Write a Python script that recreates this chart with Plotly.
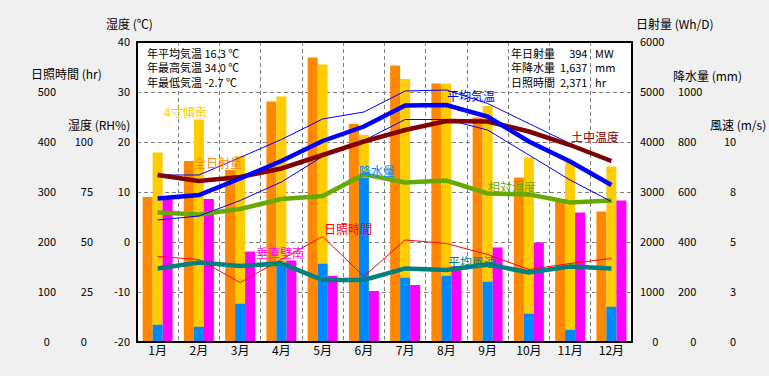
import plotly.graph_objects as go

# ---------------- data ----------------
months = ["1月", "2月", "3月", "4月", "5月", "6月", "7月", "8月", "9月", "10月", "11月", "12月"]
month_pos = [1, 2, 3, 4, 5, 6, 7, 8, 9, 10, 11, 12]

solar_total = [2900, 3620, 3440, 4810, 5690, 4360, 5530, 5170, 4490, 3290, 2860, 2610]   # 全日射量 Wh/D
solar_tilt = [3790, 4450, 3720, 4910, 5550, 4140, 5260, 5170, 4720, 3690, 3610, 3510]    # 4寸傾南 Wh/D
solar_wall = [2900, 2860, 1810, 1630, 1320, 1020, 1140, 1520, 1890, 1990, 2590, 2830]    # 垂直壁南 Wh/D
precip = [69, 61, 153, 305, 313, 657, 257, 265, 241, 113, 49, 141]                      # 降水量 mm

temp_avg = [8.7, 9.4, 12.7, 16.2, 20.2, 23.1, 27.3, 27.4, 25.1, 20.1, 16.1, 11.4]
temp_max = [13.4, 13.4, 16.9, 20.5, 24.6, 26.0, 30.2, 30.4, 27.7, 23.7, 19.7, 15.9]
temp_min = [4.4, 5.2, 8.3, 12.0, 17.1, 20.3, 24.5, 24.5, 22.4, 17.4, 12.4, 8.1]
temp_soil = [13.4, 12.2, 13.0, 14.7, 17.4, 20.1, 22.4, 24.2, 24.1, 22.1, 19.4, 16.2]
humidity = [64.8, 63.8, 66.5, 71.5, 73.0, 83.8, 79.8, 80.7, 74.3, 73.8, 69.8, 70.8]
wind = [3.68, 3.98, 3.80, 3.93, 3.10, 3.10, 3.68, 3.60, 3.88, 3.48, 3.77, 3.68]
sunshine = [171, 165, 119, 165, 211, 131, 204, 197, 175, 145, 157, 167]

FS = "\u2007"
temp_ticks = [-20, -10, 0, 10, 20, 30, 40]
hour_ticks = [0, 100, 200, 300, 400, 500]
hour_text = ["0" + FS, "100", "200", "300", "400", "500"]
rh_ticks = [0, 25, 50, 75, 100]
rh_text = ["0" + FS, "25", "50", "75", "100"]
solar_ticks = [0, 1000, 2000, 3000, 4000, 5000, 6000]
solar_text = [FS + FS + "0", "1000", "2000", "3000", "4000", "5000", "6000"]
precip_ticks = [0, 200, 400, 600, 800, 1000]
precip_text = [FS + FS + "0", "200", "400", "600", "800", "1000"]
wind_ticks = [0, 2.5, 5, 7.5, 10]
wind_text = [FS + "0", FS + "3", FS + "5", FS + "8", "10"]

info_left = ["年平均気温 16.3 ℃", "年最高気温 34.0 ℃", "年最低気温 -2.7 ℃"]
info_right_names = ["年日射量", "年降水量", "日照時間"]
info_right_values = ["394", "1,637", "2,371"]
info_right_units = ["MW", "mm", "hr"]

# ---------------- geometry ----------------
W, H = 769, 376
def px(x):
    return x / W
def py(y):
    return 1 - y / H

FONT = "Noto Sans CJK JP, Noto Sans CJK SC, sans-serif"
GRID = "#808080"
BW = 0.2424

fig = go.Figure()

# bars
fig.add_trace(go.Bar(x=month_pos, y=solar_total, width=BW, offset=-1.5 * BW,
                     marker=dict(color="#FF8800", line=dict(width=0)), yaxis="y", name="全日射量"))
fig.add_trace(go.Bar(x=month_pos, y=solar_tilt, width=BW, offset=-0.5 * BW,
                     marker=dict(color="#FFCC00", line=dict(width=0)), yaxis="y", name="4寸傾南"))
fig.add_trace(go.Bar(x=month_pos, y=solar_wall, width=BW, offset=0.5 * BW,
                     marker=dict(color="#FF00FF", line=dict(width=0)), yaxis="y", name="垂直壁南"))
fig.add_trace(go.Bar(x=month_pos, y=precip, width=BW, offset=-0.5 * BW,
                     marker=dict(color="#0088FF", line=dict(width=0)), yaxis="y2", name="降水量"))

# lines
fig.add_trace(go.Scatter(x=month_pos, y=sunshine, mode="lines", line=dict(color="#FF0000", width=1),
                         yaxis="y3", name="日照時間"))
fig.add_trace(go.Scatter(x=month_pos, y=humidity, mode="lines", line=dict(color="#66AA00", width=4.5),
                         yaxis="y4", name="相対湿度"))
fig.add_trace(go.Scatter(x=month_pos, y=wind, mode="lines", line=dict(color="#008080", width=4.5),
                         yaxis="y5", name="平均風速"))
fig.add_trace(go.Scatter(x=month_pos, y=temp_max, mode="lines", line=dict(color="#0000FF", width=1),
                         yaxis="y6", name="最高気温"))
fig.add_trace(go.Scatter(x=month_pos, y=temp_min, mode="lines", line=dict(color="#0000FF", width=1),
                         yaxis="y6", name="最低気温"))
fig.add_trace(go.Scatter(x=month_pos, y=temp_soil, mode="lines", line=dict(color="#800000", width=4.5),
                         yaxis="y6", name="土中温度"))
fig.add_trace(go.Scatter(x=month_pos, y=temp_avg, mode="lines", line=dict(color="#0000FF", width=4.5),
                         yaxis="y6", name="平均気温"))

xdom = [px(137), px(632)]
ydom = [py(342), py(42)]
tickfont = dict(family=FONT, size=11, color="black")

def side_axis(side, pos, rng, tv, tt, overlay=True):
    d = dict(side=side, anchor="free", position=pos, range=rng,
             tickmode="array", tickvals=tv, ticktext=tt, showgrid=False, zeroline=False,
             showline=False, ticks="", tickfont=tickfont, automargin=False, fixedrange=True)
    if overlay:
        d["overlaying"] = "y"
    return d

main_y = side_axis("right", px(639), [0, 6000], solar_ticks, solar_text, overlay=False)
main_y.update(domain=ydom, showgrid=True, gridcolor=GRID, griddash="4px,3px", gridwidth=1)

fig.update_layout(
    width=W, height=H,
    margin=dict(l=0, r=0, t=0, b=0),
    paper_bgcolor="#F0F0F0", plot_bgcolor="white",
    showlegend=False, barmode="overlay", template="none",
    font=dict(family=FONT, size=12, color="black"),
    xaxis=dict(domain=xdom, range=[0.5, 12.5], tickmode="array", tickvals=month_pos, ticktext=months,
               showgrid=False, zeroline=False, ticks="", showline=False,
               tickfont=dict(family=FONT, size=12, color="black"), automargin=False, fixedrange=True,
               minor=dict(tick0=0.5, dtick=1, showgrid=True, gridcolor=GRID, griddash="4px,3px",
                          gridwidth=1, ticks="")),
    yaxis=main_y,
    yaxis2=side_axis("right", px(677), [0, 1200], precip_ticks, precip_text),
    yaxis3=side_axis("left", px(56), [0, 600], hour_ticks, hour_text),
    yaxis4=side_axis("left", px(93), [0, 150], rh_ticks, rh_text),
    yaxis5=side_axis("right", px(723), [0, 15], wind_ticks, wind_text),
    yaxis6=side_axis("left", px(130), [-20, 40], temp_ticks, [str(v) for v in temp_ticks]),
    shapes=[dict(type="rect", xref="paper", yref="paper", x0=xdom[0], x1=xdom[1], y0=ydom[0], y1=ydom[1],
                 line=dict(color="black", width=2), fillcolor="rgba(0,0,0,0)", layer="above")],
)

ann = []
def label(x, y, text, color="black", size=12, xanchor="left", yanchor="middle", align="left"):
    ann.append(dict(x=px(x), y=py(y), xref="paper", yref="paper", text=text, showarrow=False,
                    xanchor=xanchor, yanchor=yanchor, align=align,
                    font=dict(family=FONT, size=size, color=color)))

# axis titles
label(104, 24, "湿度 (℃)")
label(29, 74, "日照時間 (hr)")
label(66, 125, "湿度 (RH%)")
label(634, 24, "日射量 (Wh/D)")
label(671, 75, "降水量 (mm)")
label(768, 125, "風速 (m/s)", xanchor="right")

# info boxes (multi-line)
label(145, 67.5, "<br>".join(info_left), size=11)
label(509, 67, "<br>".join(info_right_names), size=11)
label(589, 67, "<br>".join(info_right_values), size=11, xanchor="right", align="right")
label(593, 67, "<br>".join(info_right_units), size=11)

# series labels
label(162, 111, "4寸傾南", "#FFCC00")
label(192, 162, "全日射量", "#FF8800")
label(254, 252, "垂直壁南", "#FF00FF")
label(322, 228, "日照時間", "#FF0000")
label(357, 170, "降水量", "#0088FF")
label(445, 96, "平均気温", "#0000FF")
label(569, 137, "土中温度", "#800000")
label(486, 186, "相対湿度", "#66AA00")
label(446, 261, "平均風速", "#008080")

fig.update_layout(annotations=ann)
fig.write_html("out.html", config={"displayModeBar": False},
               post_script="document.body.style.margin='0px';document.body.style.background='#F0F0F0';")
